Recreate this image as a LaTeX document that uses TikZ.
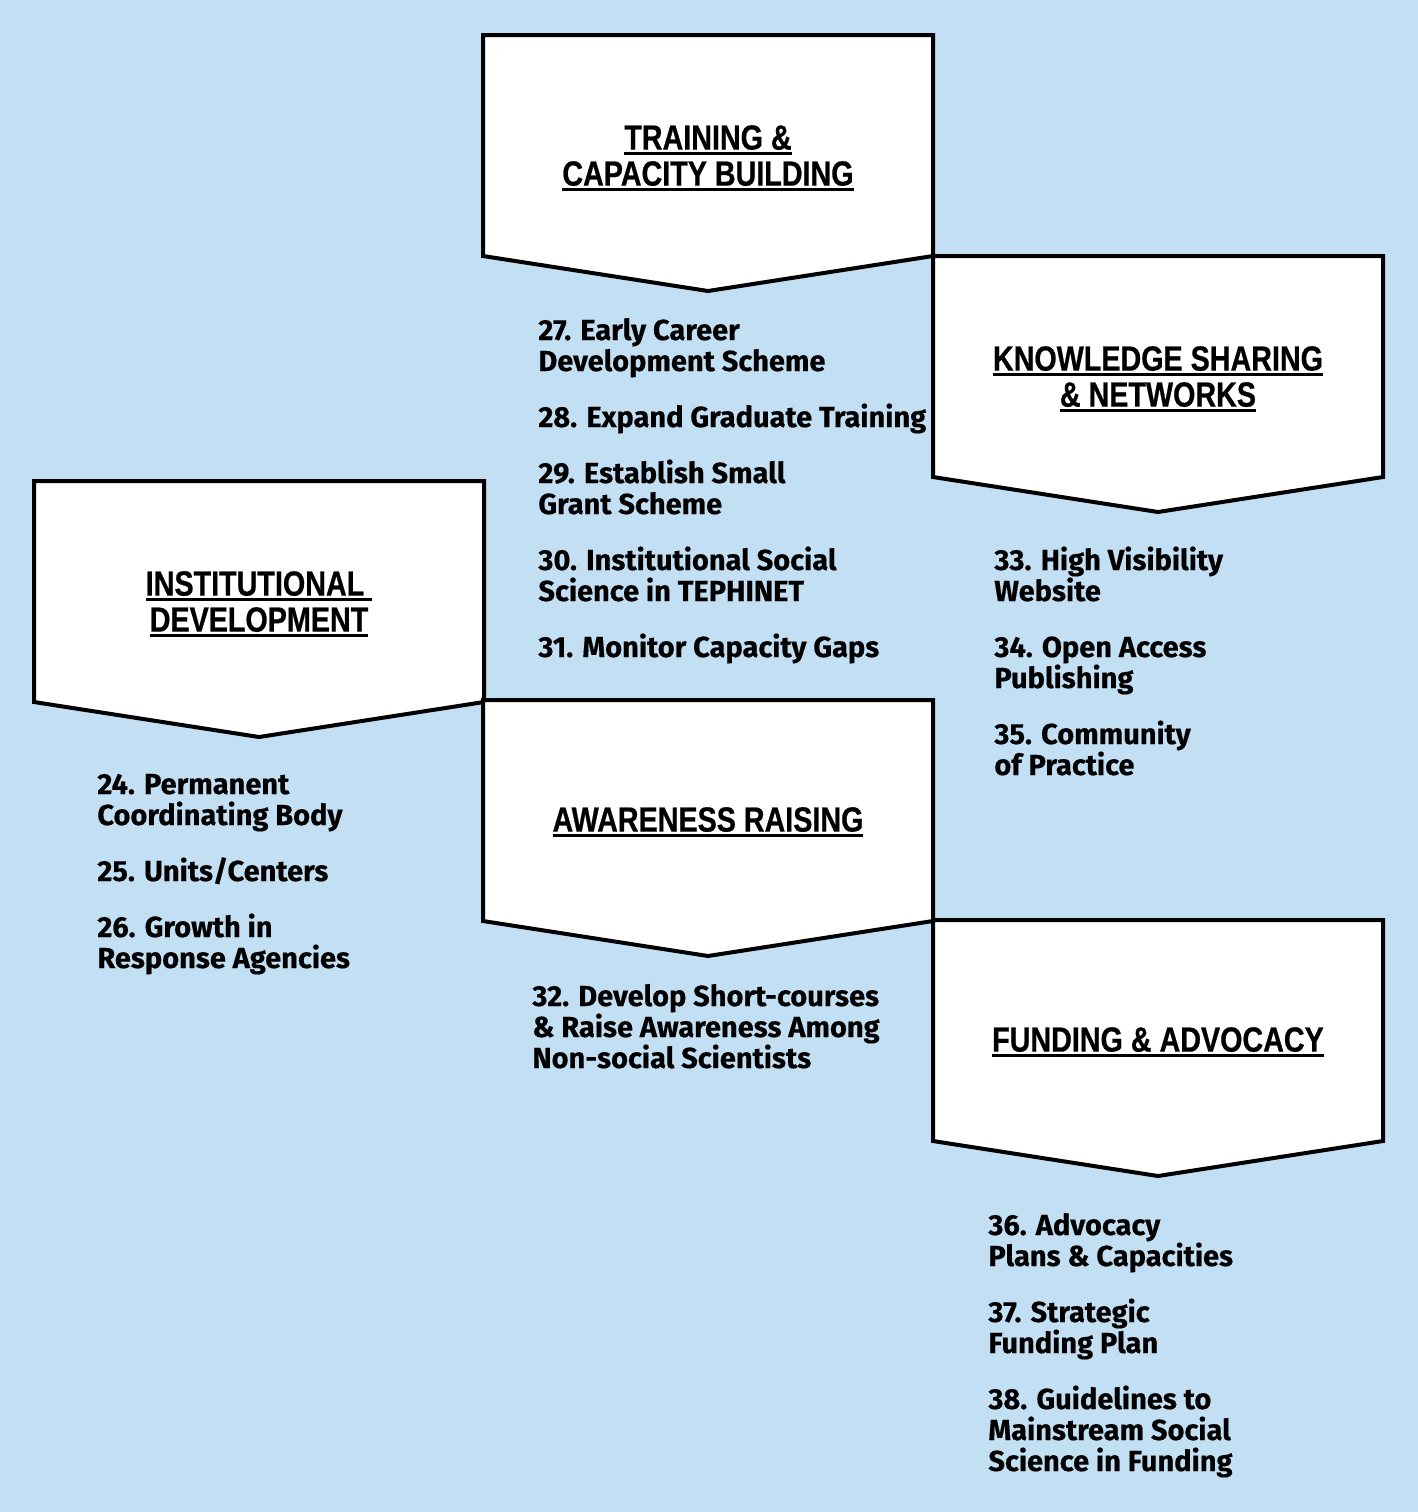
\documentclass[tikz,border=0pt]{standalone}
\usepackage{fontspec}
\setmainfont{Fira Sans}
\newfontfamily\headfont{Liberation Sans Bold}[FakeStretch=0.82, FakeBold=0.6]
\newfontfamily\itemfont{Fira Sans}[BoldFeatures={FakeBold=0.4}]
\definecolor{skyback}{RGB}{194, 223, 243}
\newcommand{\uln}[1]{\setbox0\hbox{#1}\rlap{\rule[-2.6pt]{\wd0}{1.4pt}}\box0}

\begin{document}
\begin{tikzpicture}[
    x=0.5pt, y=-0.5pt,
    shield/.style={
      draw=black,
      fill=white,
      line width=2pt,
      line join=miter
    },
    heading/.style={
      align=center,
      inner sep=0pt,
      font=\headfont\fontsize{17.5}{17.5}\selectfont
    },
    items/.style={
      align=left,
      anchor=base west,
      inner sep=0pt,
      font=\itemfont\bfseries\fontsize{14.5}{15.5}\selectfont
    }
  ]
    % background and page size
    \fill[skyback] (0,0) rectangle (1418,1512);

    % the five shields
    \foreach \lx/\ty in {483/35, 933/256, 34/481, 483/700, 933/920}
      \draw[shield] (\lx,\ty) -- ++(450,0) -- ++(0,221) -- ++(-225,35)
        -- ++(-225,-35) -- cycle;

    % headings
    \node[heading] (train) at (708,158) {\uln{TRAINING \&}\\[0.5pt]\uln{CAPACITY BUILDING}};
    \node[heading] (know) at (1158,379) {\uln{KNOWLEDGE SHARING}\\[0.5pt]\uln{\& NETWORKS}};
    \node[heading] (inst) at (259,604) {\uln{INSTITUTIONAL\ }\\[0.5pt]\uln{DEVELOPMENT}};
    \node[heading] (aware) at (708,822) {\uln{AWARENESS RAISING}};
    \node[heading] (fund) at (1158,1042) {\uln{FUNDING \& ADVOCACY}};

    % action lists (placed at the baseline of their last line)
    \node[items] (trainlist) at (538,657) {27. Early Career\\Development Scheme\\[12.5pt]
      28. Expand Graduate Training\\[12.5pt]
      29. Establish Small\\Grant Scheme\\[12.5pt]
      30. Institutional Social\\Science in TEPHINET\\[12.5pt]
      31. Monitor Capacity Gaps};
    \node[items] (knowlist) at (994,775) {33. High Visibility\\Website\\[12.5pt]
      34. Open Access\\Publishing\\[12.5pt]
      35. Community\\of Practice};
    \node[items] (instlist) at (97,968) {24. Permanent\\Coordinating Body\\[12.5pt]
      25. Units/Centers\\[12.5pt]
      26. Growth in\\Response Agencies};
    \node[items] (awarelist) at (532,1068) {32. Develop Short-courses\\\& Raise Awareness Among\\Non-social Scientists};
    \node[items] (fundlist) at (988,1471) {36. Advocacy\\Plans \& Capacities\\[12.5pt]
      37. Strategic\\Funding Plan\\[12.5pt]
      38. Guidelines to\\Mainstream Social\\Science in Funding};
  \end{tikzpicture}
\end{document}
